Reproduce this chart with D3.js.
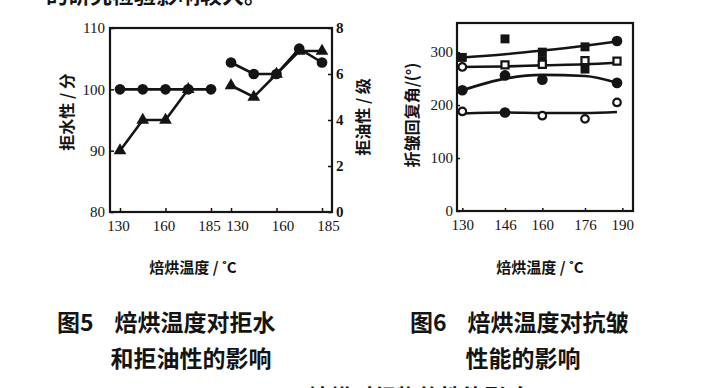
<!DOCTYPE html>
<html>
<head>
<meta charset="utf-8">
<script src="https://cdn.jsdelivr.net/npm/d3@7"></script>
<style>
  body { margin: 0; background: #fff; }
  svg { display: block; }
  text { fill: #141414; }
</style>
</head>
<body>
<svg width="728" height="388"></svg>
<script>
// ---- data ----
// fig 5: water repellency (left axis) and oil repellency (right axis)
let fig5Temps = ['130', '145', '160', '175', '185'];
let fig5Ticks = ['130', '160', '185'];
let waterCircle = [100, 100, 100, 100, 100];
let waterTriangle = [90, 95, 95, 100];
let oilCircle = [6.5, 6, 6, 7.1, 6.5];
let oilTriangle = [5.5, 5, 6, 7, 7];
let waterTicks = [80, 90, 100, 110];
let oilTicks = [0, 2, 4, 6, 8];

// fig 6: crease recovery angle
let fig6Ticks = [130, 146, 160, 176, 190];
let fig6YTicks = [0, 100, 200, 300];
let fitTemps = [130, 146, 160, 176, 188];
let fitA = [290, 296, 303, 312, 320];
let fitB = [272, 273, 275, 277, 280];
let fitC = [228, 250, 257, 255, 242];
let fitD = [184, 186, 185, 185, 187];
let filledSquares = [[130, 290], [146, 325], [160, 300], [160, 284], [176, 310], [176, 268]];
let filledCircles = [[130, 228], [146, 256], [160, 248], [188, 321], [188, 242], [146, 186]];
let openSquares = [[146, 276], [160, 277], [176, 284], [188, 283]];
let openCircles = [[130, 272], [130, 188], [160, 180], [176, 174], [188, 205]];

let ink = '#141414';
let cjk = '"Noto Sans CJK SC", "Noto Sans", sans-serif';
let num = '"Liberation Serif", "DejaVu Serif", serif';

let svg = d3.select('svg');

// clipped text at the very top and bottom of the scan
svg.append('text').attr('x', 46).attr('y', 3)
    .style('font-family', cjk).style('font-weight', 'bold').style('font-size', '22px')
    .text('的研究检验影响较大。');
svg.append('text').attr('x', 290).attr('y', 405)
    .style('font-family', cjk).style('font-weight', 'bold').style('font-size', '22px')
    .text('4  焙烘对织物的性能影响');

// ================= fig 5 =================
let f5 = {l: 110, r: 332, t: 28, b: 212};
let g5 = svg.append('g');

let xWater = d3.scalePoint().domain(fig5Temps).range([120, 211]);
let xOil = d3.scalePoint().domain(fig5Temps).range([231, 322]);
let yWater = d3.scaleLinear().domain([80, 110]).range([f5.b, f5.t]);
let yOil = d3.scaleLinear().domain([0, 8]).range([f5.b, f5.t]);

g5.append('rect')
    .attr('x', f5.l).attr('y', f5.t)
    .attr('width', f5.r - f5.l).attr('height', f5.b - f5.t)
    .attr('fill', 'none').attr('stroke', ink).attr('stroke-width', 2.2);

// left axis ticks (inside) + labels
let leftAxis = g5.append('g').attr('transform', 'translate(' + f5.l + ',0)')
    .call(d3.axisLeft(yWater).tickValues(waterTicks).tickSize(-4).tickPadding(5));
leftAxis.select('.domain').remove();

let rightAxis = g5.append('g').attr('transform', 'translate(' + f5.r + ',0)')
    .call(d3.axisRight(yOil).tickValues(oilTicks).tickSize(-4).tickPadding(4));
rightAxis.select('.domain').remove();

let bottomWater = g5.append('g').attr('transform', 'translate(0,' + f5.b + ')')
    .call(d3.axisBottom(xWater).tickValues(fig5Ticks).tickSize(-4).tickPadding(8));
bottomWater.select('.domain').remove();
bottomWater.selectAll('text').attr('dx', -2);
let bottomOil = g5.append('g').attr('transform', 'translate(0,' + f5.b + ')')
    .call(d3.axisBottom(xOil).tickValues(fig5Ticks).tickSize(-4).tickPadding(8));
bottomOil.select('.domain').remove();
bottomOil.selectAll('text').attr('dx', 6);
g5.selectAll('.tick line').attr('stroke', ink).attr('stroke-width', 1.5);
g5.selectAll('.tick text').style('font-family', num).style('font-size', '15px').attr('fill', ink);
rightAxis.selectAll('text').style('font-weight', 'bold');

let lineWater = d3.line().x((d, i) => xWater(fig5Temps[i])).y(d => yWater(d));
let lineOil = d3.line().x((d, i) => xOil(fig5Temps[i])).y(d => yOil(d));

function drawSeries(g, values, line, xs, ys, shape) {
    g.append('path').datum(values)
        .attr('d', line).attr('fill', 'none')
        .attr('stroke', ink).attr('stroke-width', 2.6);
    let sym = d3.symbol().type(shape).size(shape === d3.symbolTriangle ? 70 : 90);
    g.selectAll(null).data(values).enter().append('path')
        .attr('d', sym)
        .attr('transform', (d, i) => 'translate(' + xs(fig5Temps[i]) + ',' + ys(d) + ')')
        .attr('fill', ink);
}
drawSeries(g5, waterTriangle, lineWater, xWater, yWater, d3.symbolTriangle);
drawSeries(g5, waterCircle, lineWater, xWater, yWater, d3.symbolCircle);
drawSeries(g5, oilTriangle, lineOil, xOil, yOil, d3.symbolTriangle);
drawSeries(g5, oilCircle, lineOil, xOil, yOil, d3.symbolCircle);

g5.append('text')
    .attr('transform', 'translate(73,' + 112 + ') rotate(-90)')
    .attr('text-anchor', 'middle')
    .style('font-family', cjk).style('font-weight', 'bold').style('font-size', '16px')
    .text('拒水性 / 分');
g5.append('text')
    .attr('transform', 'translate(369,' + 117 + ') rotate(-90)')
    .attr('text-anchor', 'middle')
    .style('font-family', cjk).style('font-weight', 'bold').style('font-size', '16px')
    .text('拒油性 / 级');
g5.append('text').attr('x', 193).attr('y', 273).attr('text-anchor', 'middle')
    .style('font-family', cjk).style('font-weight', 'bold').style('font-size', '15px')
    .text('焙烘温度 / ˚C');
g5.append('text').attr('x', 57).attr('y', 331)
    .style('font-family', cjk).style('font-weight', 'bold').style('font-size', '23px')
    .attr('xml:space', 'preserve')
    .text('图5    焙烘温度对拒水');
g5.append('text').attr('x', 191).attr('y', 367).attr('text-anchor', 'middle')
    .style('font-family', cjk).style('font-weight', 'bold').style('font-size', '23px')
    .text('和拒油性的影响');

// ================= fig 6 =================
let f6 = {l: 457, r: 633, t: 23, b: 211};
let g6 = svg.append('g');

let x6 = d3.scaleLinear().domain([128, 194]).range([f6.l, f6.r]);
let y6 = d3.scaleLinear().domain([0, 355]).range([f6.b, f6.t]);

g6.append('rect')
    .attr('x', f6.l).attr('y', f6.t)
    .attr('width', f6.r - f6.l).attr('height', f6.b - f6.t)
    .attr('fill', 'none').attr('stroke', ink).attr('stroke-width', 2.2);

let axY6 = g6.append('g').attr('transform', 'translate(' + f6.l + ',0)')
    .call(d3.axisLeft(y6).tickValues(fig6YTicks).tickSize(-3).tickPadding(4));
axY6.select('.domain').remove();
let axX6 = g6.append('g').attr('transform', 'translate(0,' + f6.b + ')')
    .call(d3.axisBottom(x6).tickValues(fig6Ticks).tickSize(-3).tickPadding(8));
axX6.select('.domain').remove();
g6.selectAll('.tick line').attr('stroke', ink).attr('stroke-width', 1.5);
g6.selectAll('.tick text').style('font-family', num).style('font-size', '15px').attr('fill', ink);

let fitLine = d3.line()
    .x((d, i) => x6(fitTemps[i])).y(d => y6(d))
    .curve(d3.curveMonotoneX);
[fitA, fitB, fitC, fitD].forEach(function(vals) {
    g6.append('path').datum(vals)
        .attr('d', fitLine).attr('fill', 'none')
        .attr('stroke', ink).attr('stroke-width', 2.6);
});

function drawMarks(points, shape, filled) {
    let sym = d3.symbol().type(shape).size(shape === d3.symbolSquare ? 80 : 90);
    g6.selectAll(null).data(points).enter().append('path')
        .attr('d', filled ? sym : d3.symbol().type(shape).size(shape === d3.symbolSquare ? 50 : 45))
        .attr('transform', d => 'translate(' + x6(d[0]) + ',' + y6(d[1]) + ')')
        .attr('fill', filled ? ink : '#fff')
        .attr('stroke', ink)
        .attr('stroke-width', filled ? 0 : 2.2);
}
drawMarks(filledSquares, d3.symbolSquare, true);
drawMarks(filledCircles, d3.symbolCircle, true);
drawMarks(openSquares, d3.symbolSquare, false);
drawMarks(openCircles, d3.symbolCircle, false);

g6.append('text')
    .attr('transform', 'translate(418,' + 115 + ') rotate(-90)')
    .attr('text-anchor', 'middle')
    .style('font-family', cjk).style('font-weight', 'bold').style('font-size', '16px')
    .text('折皱回复角/(°)');
g6.append('text').attr('x', 540).attr('y', 273).attr('text-anchor', 'middle')
    .style('font-family', cjk).style('font-weight', 'bold').style('font-size', '15px')
    .text('焙烘温度 / ˚C');
g6.append('text').attr('x', 410).attr('y', 331)
    .style('font-family', cjk).style('font-weight', 'bold').style('font-size', '23px')
    .attr('xml:space', 'preserve')
    .text('图6    焙烘温度对抗皱');
g6.append('text').attr('x', 523).attr('y', 367).attr('text-anchor', 'middle')
    .style('font-family', cjk).style('font-weight', 'bold').style('font-size', '23px')
    .text('性能的影响');
</script>
</body>
</html>
